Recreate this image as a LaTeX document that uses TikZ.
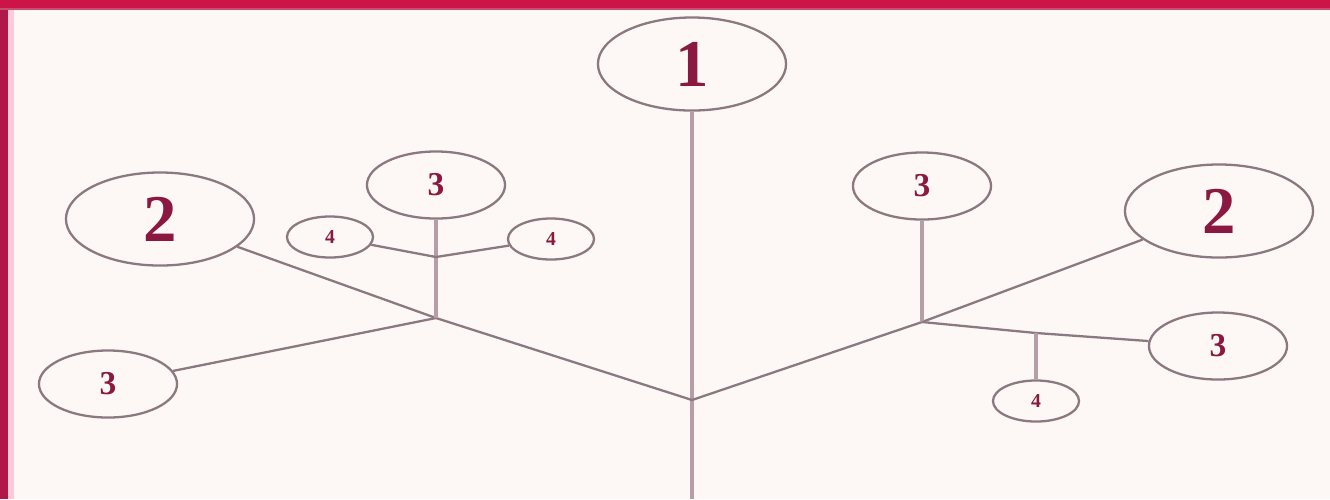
\documentclass[tikz,border=0pt]{standalone}
\usepackage{fontspec}
\setmainfont{Liberation Serif}
\usetikzlibrary{shapes.geometric,calc}
\definecolor{crimson}{HTML}{CC1448}
\definecolor{darkband}{HTML}{B0184A}
\definecolor{rosestrip}{HTML}{FFC9D6}
\definecolor{topline}{HTML}{C4506E}
\definecolor{paper}{HTML}{FDF8F6}
\definecolor{wine}{HTML}{8A1840}
\definecolor{mauve}{HTML}{8C7880}
\definecolor{stemgray}{HTML}{B59EA6}

\begin{document}
\begin{tikzpicture}[x=0.01cm,y=-0.01cm,
  bubble/.style={ellipse,draw=mauve,line width=0.65pt,fill=paper,inner sep=0pt,text=wine},
  big/.style={bubble,minimum width=1.88cm,minimum height=0.93cm,font=\fontsize{19}{19}\selectfont\bfseries},
  mid/.style={bubble,minimum width=1.38cm,minimum height=0.67cm,font=\fontsize{9.5}{9.5}\selectfont\bfseries},
  small/.style={bubble,minimum width=0.86cm,minimum height=0.41cm,font=\fontsize{5.6}{5.6}\selectfont\bfseries},
  branch/.style={mauve,line width=0.65pt},
  stem/.style={stemgray,line width=1.2pt}]

% frame and paper
\fill[paper] (0,0) rectangle (1330,499);
\useasboundingbox (0,0) rectangle (1330,499);
\fill[rosestrip] (8,0) rectangle (14,499);
\fill[darkband] (0,0) rectangle (8,499);
\fill[topline] (0,8) rectangle (1330,10);
\fill[crimson] (0,0) rectangle (1330,8);

% junctions
\coordinate (j0) at (692,400);
\coordinate (jl) at (436,318);
\coordinate (jr) at (922,322);
\coordinate (jl4) at (436,257);
\coordinate (jr4) at (1036,333);
\coordinate (foot) at (692,499);

% nodes
\node[big] (one) at (692,64) {1};
\node[big] (twoL) at (160,219) {2};
\node[big] (twoR) at (1219,211) {2};
\node[mid] (threeA) at (108,384) {3};
\node[mid] (threeB) at (436,185) {3};
\node[mid] (threeC) at (922,186) {3};
\node[mid] (threeD) at (1218,346) {3};
\node[small] (fourA) at (330,237) {4};
\node[small] (fourB) at (551,239) {4};
\node[small] (fourC) at (1036,401) {4};

% connectors
\draw[stem] (one) -- (j0) -- (foot);
\draw[branch] (twoL) -- (jl) -- (j0) -- (jr) -- (twoR);
\draw[branch] (threeA) -- (jl);
\draw[stem] (threeB) -- (jl);
\draw[branch] (fourA) -- (jl4) -- (fourB);
\draw[stem] (threeC) -- (jr);
\draw[branch] (jr) -- (jr4) -- (threeD);
\draw[stem] (jr4) -- (fourC);

\end{tikzpicture}
\end{document}
